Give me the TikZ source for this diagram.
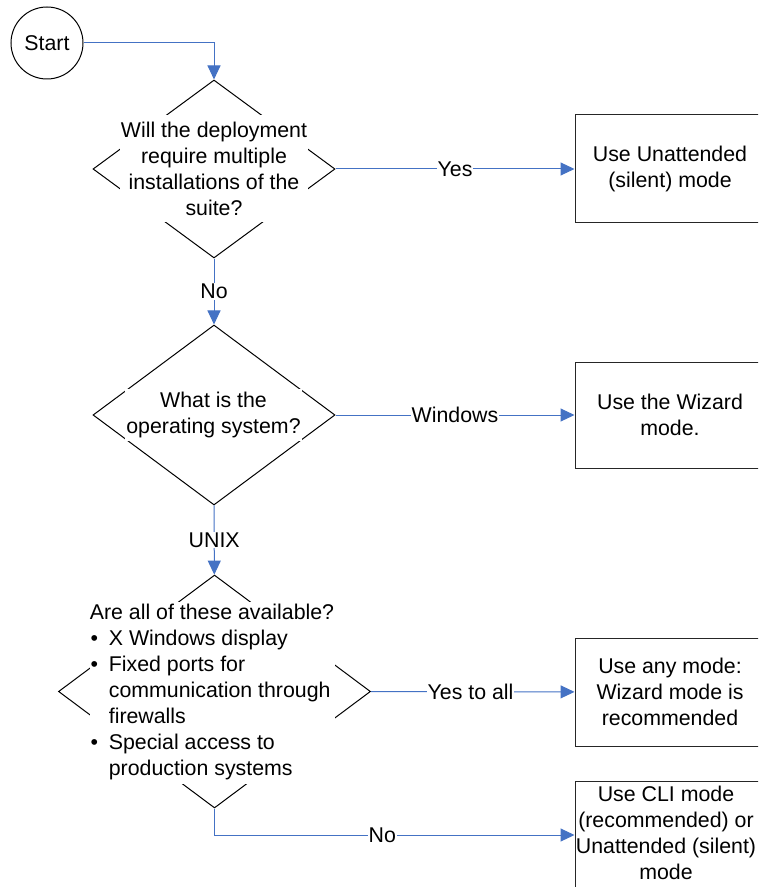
\documentclass[tikz,border=0pt]{standalone}
\usepackage{fontspec}
\setmainfont{Liberation Sans}
\usetikzlibrary{shapes.geometric,arrows.meta}
\definecolor{conblue}{RGB}{68,114,196}
\begin{document}
\begin{tikzpicture}[x=0.75pt,y=-0.75pt,
  every node/.style={font=\fontsize{16}{19.5}\selectfont},
  dmd/.style={shape=diamond, draw=black, line width=0.75pt, inner sep=0pt},
  qtext/.style={fill=white, inner sep=0pt, align=center},
  outbox/.style={draw=black!85, line width=0.75pt, fill=white, inner sep=0pt, align=center,
    minimum width=142.5pt, minimum height=81pt},
  conn/.style={draw=conblue, line width=0.75pt, -{Triangle[width=9.75pt,length=10.5pt]}},
  lab/.style={fill=white, inner sep=0.5pt}]
\useasboundingbox (0,0) rectangle (758,887);
\clip (0,0) rectangle (758,887);

% start
\node[circle, draw=black, line width=0.75pt, minimum size=54pt, inner sep=0pt] (start) at (47,43) {Start};

% decision 1
\node[dmd, minimum width=181.5pt, minimum height=133.5pt] (d1) at (214,169) {};
\node[qtext, minimum width=141pt, minimum height=80.25pt] (t1) at (214,168.5)
  {Will the deployment\\require multiple\\installations of the\\suite?};

% decision 2
\node[dmd, minimum width=181.5pt, minimum height=135pt] (d2) at (214,415) {};
\node[qtext, minimum width=132.75pt, minimum height=39pt] (t2) at (213.5,415)
  {What is the\\operating system?};

% decision 3
\node[dmd, minimum width=234pt, minimum height=174.75pt] (d3) at (214.5,691.5) {};
\node[fill=white, inner sep=0pt, minimum width=183.75pt, minimum height=135.75pt] (t3) at (212,692.5)
  {\begin{tabular}{@{}l@{}l@{}}
   \multicolumn{2}{@{}l@{}}{Are all of these available?}\\
   \makebox[14.25pt][l]{\hspace{0.5pt}\textbullet} & X Windows display\\
   \makebox[14.25pt][l]{\hspace{0.5pt}\textbullet} & Fixed ports for\\
    & communication through\\
    & firewalls\\
   \makebox[14.25pt][l]{\hspace{0.5pt}\textbullet} & Special access to\\
    & production systems
   \end{tabular}};

% outcome boxes
\node[outbox] (b1) at (670,169) {Use Unattended\\(silent) mode};
\node[outbox, minimum height=79.5pt] (b2) at (670,415) {Use the Wizard\\mode.};
\node[outbox] (b3) at (670,692) {Use any mode:\\Wizard mode is\\recommended};
\node[outbox] (b4) at (670,835)
  {\begin{tabular}{@{}c@{}}Use CLI mode\\(recommended) or\\Unattended (silent)\\mode\end{tabular}\hspace{6pt}};

% connectors
\draw[conn] (start) -| (d1);
\draw[conn] (d1) -- node[lab] {Yes} (b1);
\draw[conn] (d1) -- node[lab] {No} (d2);
\draw[conn] (d2) -- node[lab] {Windows} (b2);
\draw[conn] (d2) -- node[lab] {UNIX} (d3);
\draw[conn] (d3) -- node[lab, pos=0.49] {Yes to all} (b3);
\draw[conn] (d3) |- node[lab, pos=0.733] {No} (b4);
\end{tikzpicture}
\end{document}
